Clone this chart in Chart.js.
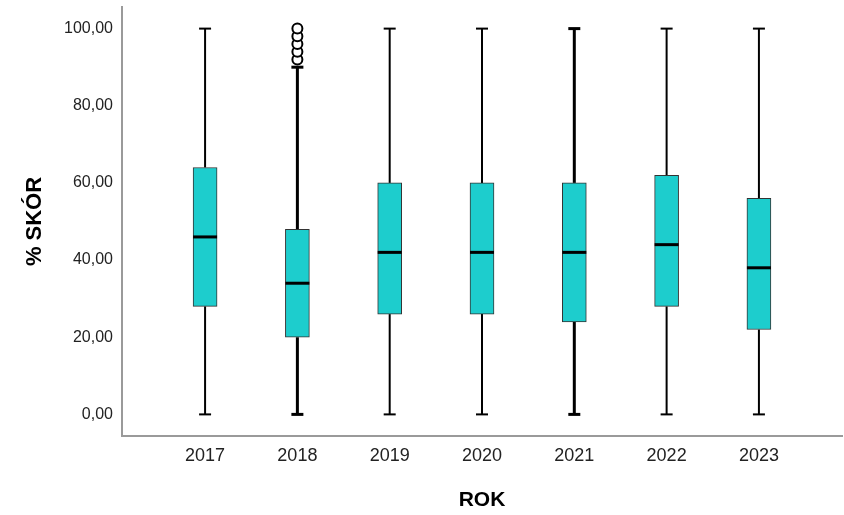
<!DOCTYPE html>
<html>
<head>
<meta charset="utf-8">
<script src="https://cdn.jsdelivr.net/npm/chart.js@4.4.1/dist/chart.umd.min.js"></script>
<style>
  html, body { margin: 0; padding: 0; background: #fff; }
</style>
</head>
<body>
<canvas id="wykres" width="844" height="515"></canvas>
<script>
const years = ['2017', '2018', '2019', '2020', '2021', '2022', '2023'];
const minVals = [0, 0, 0, 0, 0, 0, 0];
const q1Vals = [28, 20, 26, 26, 24, 28, 22];
const medianVals = [46, 34, 42, 42, 42, 44, 38];
const q3Vals = [64, 48, 60, 60, 60, 62, 56];
const maxVals = [100, 90, 100, 100, 100, 100, 100];
const outliers = [[], [92, 94, 96, 98, 100], [], [], [], [], []];
const yTicks = [0, 20, 40, 60, 80, 100];

// grubość wąsów (styl)
const whiskerWidths = [2, 3, 2, 2, 3, 2, 2];

const fontFamily = '"Liberation Sans", Arial, sans-serif';

// punkty wąsów: min -> q1, przerwa, q3 -> max, przerwa
const whiskerData = [];
years.forEach((y, i) => {
    whiskerData.push({x: i, y: minVals[i]}, {x: i, y: q1Vals[i]}, {x: i, y: null});
    whiskerData.push({x: i, y: q3Vals[i]}, {x: i, y: maxVals[i]}, {x: i, y: null});
});

const capData = [];
const capWidths = [];
years.forEach((y, i) => {
    capData.push({x: i, y: minVals[i]}, {x: i, y: maxVals[i]});
    capWidths.push(whiskerWidths[i], whiskerWidths[i]);
});

const outlierData = [];
outliers.forEach((list, i) => {
    list.forEach(v => outlierData.push({x: i, y: v}));
});

const ctx = document.getElementById('wykres').getContext('2d');
new Chart(ctx, {
    type: 'bar',
    data: {
        datasets: [
            {
                type: 'line',
                label: 'odstające',
                data: outlierData,
                showLine: false,
                pointStyle: 'circle',
                pointRadius: 5,
                pointBorderWidth: 2,
                pointBackgroundColor: '#fff',
                pointBorderColor: '#000',
                order: 0
            },
            {
                type: 'line',
                label: 'mediana',
                data: medianVals.map((v, i) => ({x: i, y: v})),
                showLine: false,
                pointStyle: 'line',
                pointRadius: 12,
                pointBorderWidth: 3,
                pointBorderColor: '#000',
                order: 1
            },
            {
                type: 'bar',
                label: 'pudełko',
                data: q1Vals.map((v, i) => ({x: i, y: [v, q3Vals[i]]})),
                barThickness: 24,
                backgroundColor: '#1dcdcd',
                borderColor: '#333',
                borderWidth: 1,
                borderSkipped: false,
                order: 2
            },
            {
                type: 'line',
                label: 'końce',
                data: capData,
                showLine: false,
                pointStyle: 'line',
                pointRadius: 6,
                pointBorderWidth: capWidths,
                pointBorderColor: '#000',
                order: 3
            },
            {
                type: 'line',
                label: 'wąsy',
                data: whiskerData,
                spanGaps: false,
                pointRadius: 0,
                borderColor: '#000',
                borderWidth: 2,
                segment: {
                    borderWidth: c => whiskerWidths[c.p0.parsed.x]
                },
                order: 4
            }
        ]
    },
    options: {
        responsive: false,
        animation: false,
        events: [],
        layout: { autoPadding: false, padding: { top: 7, right: 2, left: 0, bottom: 0 } },
        plugins: {
            legend: { display: false },
            tooltip: { enabled: false }
        },
        scales: {
            x: {
                type: 'linear',
                offset: false,
                min: -0.9,
                max: 6.9,
                grid: { display: false, drawTicks: false },
                border: { display: true, color: '#9a9a9a', width: 2 },
                afterBuildTicks: scale => {
                    scale.ticks = years.map((y, i) => ({value: i}));
                },
                afterFit: scale => {
                    scale.height = 79;
                    scale.paddingLeft = 0;
                    scale.paddingRight = 0;
                },
                ticks: {
                    padding: 9,
                    color: '#222',
                    font: { family: fontFamily, size: 18 },
                    callback: v => years[v]
                },
                title: {
                    display: true,
                    text: 'ROK',
                    color: '#000',
                    font: { family: fontFamily, size: 21, weight: 'bold' },
                    padding: { top: 0, bottom: 2 }
                }
            },
            y: {
                type: 'linear',
                min: -5.6,
                max: 105.6,
                grid: { display: false, drawTicks: false },
                border: { display: true, color: '#9a9a9a', width: 2 },
                afterBuildTicks: scale => {
                    scale.ticks = yTicks.map(v => ({value: v}));
                },
                afterFit: scale => {
                    scale.width = 122;
                    scale.paddingTop = 0;
                    scale.paddingBottom = 0;
                },
                ticks: {
                    padding: 9,
                    color: '#222',
                    font: { family: fontFamily, size: 16 },
                    callback: v => v.toFixed(2).replace('.', ',')
                },
                title: {
                    display: true,
                    text: '% SKÓR',
                    color: '#000',
                    font: { family: fontFamily, size: 22, weight: 'bold' },
                    padding: { top: 22, bottom: 0 }
                }
            }
        }
    }
});
</script>
</body>
</html>
